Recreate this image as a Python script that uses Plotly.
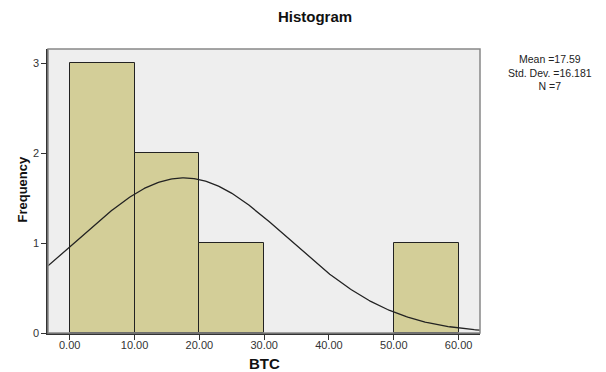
import numpy as np
import plotly.graph_objects as go

bin_left = [0, 10, 20, 50]
bin_width = 10
counts = [3, 2, 1, 1]
mean_val = 17.59
std_val = 16.181
n_val = 7
x_ticks = [0, 10, 20, 30, 40, 50, 60]
y_ticks = [0, 1, 2, 3]

x_range = [-3.35, 63.3]
y_range = [0, 3.16]

centers = [b + bin_width / 2 for b in bin_left]
xs = np.linspace(x_range[0], x_range[1], 300)
ys = n_val * bin_width / (std_val * np.sqrt(2 * np.pi)) * np.exp(-0.5 * ((xs - mean_val) / std_val) ** 2)

font = "Liberation Sans, Arial, sans-serif"
L, R, T, B = 48, 126, 49, 39
PW, PH = 606 - L - R, 372 - T - B

fig = go.Figure()
fig.add_trace(go.Bar(x=centers, y=counts, width=bin_width,
                     marker=dict(color="#D3CE98", line=dict(color="#222222", width=1)),
                     showlegend=False, hoverinfo="skip"))
fig.add_trace(go.Scatter(x=xs, y=ys, mode="lines", line=dict(color="#222222", width=1.3),
                         showlegend=False, hoverinfo="skip"))

fig.update_layout(
    width=606, height=372,
    margin=dict(l=L, r=R, t=T, b=B, autoexpand=False),
    paper_bgcolor="white", plot_bgcolor="#EEEEEE",
    bargap=0,
    title=dict(text="<b>Histogram</b>", x=315/606, xanchor="center", y=1-17/372, yanchor="middle",
               font=dict(family=font, size=15, color="#111111")),
    font=dict(family=font, size=11, color="#333333"),
    xaxis=dict(range=x_range, tickvals=x_ticks, ticktext=[f"{v:.2f}" for v in x_ticks],
               showgrid=False, zeroline=False, showline=True, linecolor="#333333", linewidth=1.5,
               ticks="outside", ticklen=5, tickcolor="#333333", automargin=False,
               ticklabelstandoff=-4),
    yaxis=dict(range=y_range, tickvals=y_ticks, showgrid=False, zeroline=False, showline=True,
               linecolor="#333333", linewidth=1.5, ticks="outside", ticklen=5, tickcolor="#333333",
               automargin=False),
    shapes=[dict(type="rect", xref="paper", yref="paper", x0=0, x1=1, y0=0, y1=1,
                 line=dict(color="#888888", width=1.5), fillcolor="rgba(0,0,0,0)", layer="above")],
    annotations=[
        dict(xref="paper", yref="paper", x=(550-L)/PW, y=1-(72-T)/PH,
             xanchor="center", yanchor="middle", showarrow=False, align="center",
             text=f"Mean ={mean_val}<br>Std. Dev. ={std_val}<br>N ={n_val}",
             font=dict(family=font, size=10.5, color="#222222")),
        dict(xref="paper", yref="paper", x=(264-L)/PW, y=-(363-333)/PH,
             xanchor="center", yanchor="middle", showarrow=False,
             text="<b>BTC</b>", font=dict(family=font, size=15, color="#111111")),
        dict(xref="paper", yref="paper", x=-(48-21.5)/PW, y=(333-189)/PH,
             xanchor="center", yanchor="middle", showarrow=False, textangle=-90,
             text="<b>Frequency</b>", font=dict(family=font, size=13, color="#111111")),
    ],
)
fig.write_html("out.html", config={"displayModeBar": False},
               post_script="document.body.style.margin='0';document.body.style.overflow='hidden';")
